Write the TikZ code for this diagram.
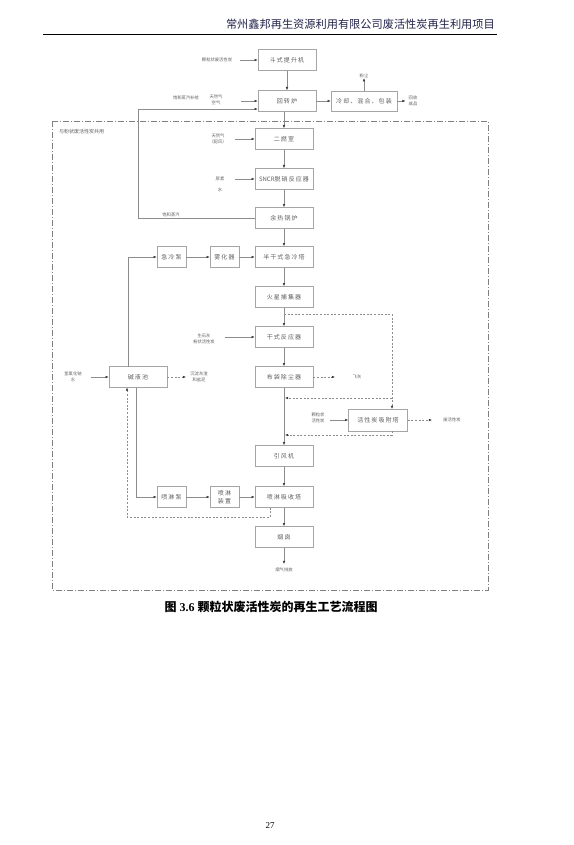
\documentclass[tikz,border=0pt]{standalone}
\usepackage{fontspec}
\setmainfont{Liberation Serif}
\newfontfamily\cjk{Noto Sans CJK SC}
\newfontfamily\cjksp{Noto Sans CJK SC}[LetterSpace=18]
\usetikzlibrary{arrows.meta}
\definecolor{boxgray}{RGB}{165,165,165}
\definecolor{txtgray}{RGB}{95,95,95}
\definecolor{linegray}{RGB}{140,140,140}
\definecolor{tipgray}{RGB}{55,55,55}
\definecolor{headc}{RGB}{35,35,75}
\tikzset{
  box/.style={draw=boxgray, line width=0.6pt, minimum width=58pt, minimum height=21pt, inner sep=0pt,
    font=\cjksp\fontsize{6}{7.5}\selectfont, text=txtgray, align=center},
  sbox/.style={box, minimum width=29pt},
  lbl/.style={font=\cjk\fontsize{4.3}{6}\selectfont, text=txtgray, align=center, inner sep=0pt},
  flow/.style={draw=linegray, line width=0.5pt, -{Latex[length=3.2pt,width=2.6pt,color=tipgray]}},
  dflow/.style={flow, dash pattern=on 2pt off 1.6pt},
}
\begin{document}
\begin{tikzpicture}[x=1pt,y=-1pt]
\useasboundingbox (0,0) rectangle (573,845);
\fill[white] (0,0) rectangle (573,845);

% header
\node[anchor=east, inner sep=0pt, font=\cjk\fontsize{11.2}{12}\selectfont, text=headc] (head) at (495,24) {常州鑫邦再生资源利用有限公司废活性炭再生利用项目};
\draw[line width=1pt] (43,34.5) -- (497,34.5);

% outer dash-dot box
\draw[draw=gray, line width=0.6pt, dash pattern=on 6pt off 2pt on 1pt off 2pt] (52,121) rectangle (488,590);
\node[lbl, anchor=west, font=\cjk\fontsize{5}{6}\selectfont] (share) at (59,132) {与粉状废活性炭共用};

% main column
\node[box] (hoist) at (287,60) {斗式提升机};
\node[box] (kiln) at (287,101) {回转炉};
\node[box, minimum width=66pt, minimum height=20pt] (cool) at (364,101) {冷却、混合、包装};
\node[box] (sec) at (284,139) {二燃室};
\node[box] (sncr) at (284,179) {{\cjk SNCR}脱硝反应器};
\node[box] (boiler) at (284,218) {余热锅炉};
\node[box] (quench) at (284,257) {半干式急冷塔};
\node[box] (spark) at (284,297) {火星捕集器};
\node[box] (dry) at (284,337) {干式反应器};
\node[box] (bag) at (284,377) {布袋除尘器};
\node[box, minimum width=59pt, minimum height=22pt] (ads) at (378,420) {活性炭吸附塔};
\node[box] (fan) at (284,456) {引风机};
\node[box] (tower) at (284,497) {喷淋吸收塔};
\node[box] (stack) at (284,537) {烟囱};

\node[sbox] (qpump) at (171.5,257) {急冷泵};
\node[sbox] (atom) at (224.5,257) {雾化器};
\node[box] (tank) at (138,377) {碱液池};
\node[sbox] (spump) at (171.5,497) {喷淋泵};
\node[sbox] (sdev) at (224.5,497) {喷淋\\装置};

% labels
\node[lbl] (lgac) at (217,60) {颗粒状废活性炭};
\node[lbl] (lgas1) at (216,100) {天然气\\空气};
\node[lbl] (lsteam1) at (186,98) {饱和蒸汽补给};
\node[lbl] (ldust) at (364,76) {粉尘};
\node[lbl] (lprod) at (413,101) {回收\\成品};
\node[lbl] (lgas2) at (218,139) {天然气\\（配风）};
\node[lbl, font=\cjk\fontsize{4.3}{11}\selectfont] (lurea) at (220,184) {尿素\\水};
\node[lbl] (lsteam2) at (171,215) {饱和蒸汽};
\node[lbl] (llime) at (204,339) {生石灰\\粉状活性炭};
\node[lbl] (lash) at (357,377) {飞灰};
\node[lbl] (lgac2) at (318,418) {颗粒状\\活性炭};
\node[lbl] (lspent) at (452,420) {废活性炭};
\node[lbl] (lnaoh) at (73,377) {氢氧化钠\\水};
\node[lbl] (lsludge) at (199,377) {沉淀灰渣\\和盐泥};
\node[lbl] (lexh) at (284,570) {烟气排放};

% connectors, top
\draw[flow] (240,60) -- (hoist.west);
\draw[flow] (hoist) -- (kiln);
\draw[flow] (241,101) -- (kiln.west);
\draw[flow] (kiln) -- (cool);
\draw[flow] (cool.north) -- (ldust.south);
\draw[flow] (cool.east) -- ([xshift=-3pt]lprod.west);
\draw[flow] (boiler.west) -- (138,218) -- (138,109) -- (kiln.west |- 138,109);
\draw[flow] (kiln.south -| sec.north) -- (sec.north);
\draw[flow] (235,139) -- (sec.west);
\draw[flow] (sec) -- (sncr);
\draw[flow] (235,179) -- (sncr.west);
\draw[flow] (sncr) -- (boiler);
\draw[flow] (boiler) -- (quench);
\draw[flow] (qpump) -- (atom);
\draw[flow] (atom) -- (quench);
\draw[flow] (quench) -- (spark);
\draw[flow] (spark) -- (dry);
\draw[flow] (225,337) -- (dry.west);
\draw[flow] (dry) -- (bag);
\draw[dflow] (bag.east) -- (335,377);
\draw[flow] (bag) -- (fan);

% bypass around adsorber
\coordinate (b1) at (284,314);
\draw[dflow] (b1) -- (392,314) -- (392,409);
\draw[dflow] (392,398) -- (285,398);
\draw[dflow] (392,431) -- (392,435) -- (285,435);
\draw[flow] (330,420) -- (ads.west);
\draw[dflow] (ads.east) -- (432,420);

\draw[flow] (fan) -- (tower);
\draw[flow] (tower) -- (stack);
\draw[flow] (stack.south) -- (284,564);

% alkali loop
\draw[flow] (91,377) -- (tank.west);
\draw[dflow] (tank.east) -- (186,377);
\draw[flow] (128,366.5) -- (128,257) -- (qpump.west);
\draw[flow] (136,387.5) -- (136,497) -- (spump.west);
\draw[flow] (spump) -- (sdev);
\draw[flow] (sdev) -- (tower);
\draw[dflow] (270,507.5) -- (270,517) -- (127,517) -- (127,387.5);

% caption
\node[inner sep=0pt, font=\fontsize{12}{13}\selectfont\bfseries] (cap) at (271,607) {{\cjk\bfseries 图} 3.6 {\cjk\bfseries 颗粒状废活性炭的再生工艺流程图}};
\node[inner sep=0pt, font=\fontsize{9}{10}\selectfont] (page) at (270,826) {27};
\end{tikzpicture}
\end{document}
